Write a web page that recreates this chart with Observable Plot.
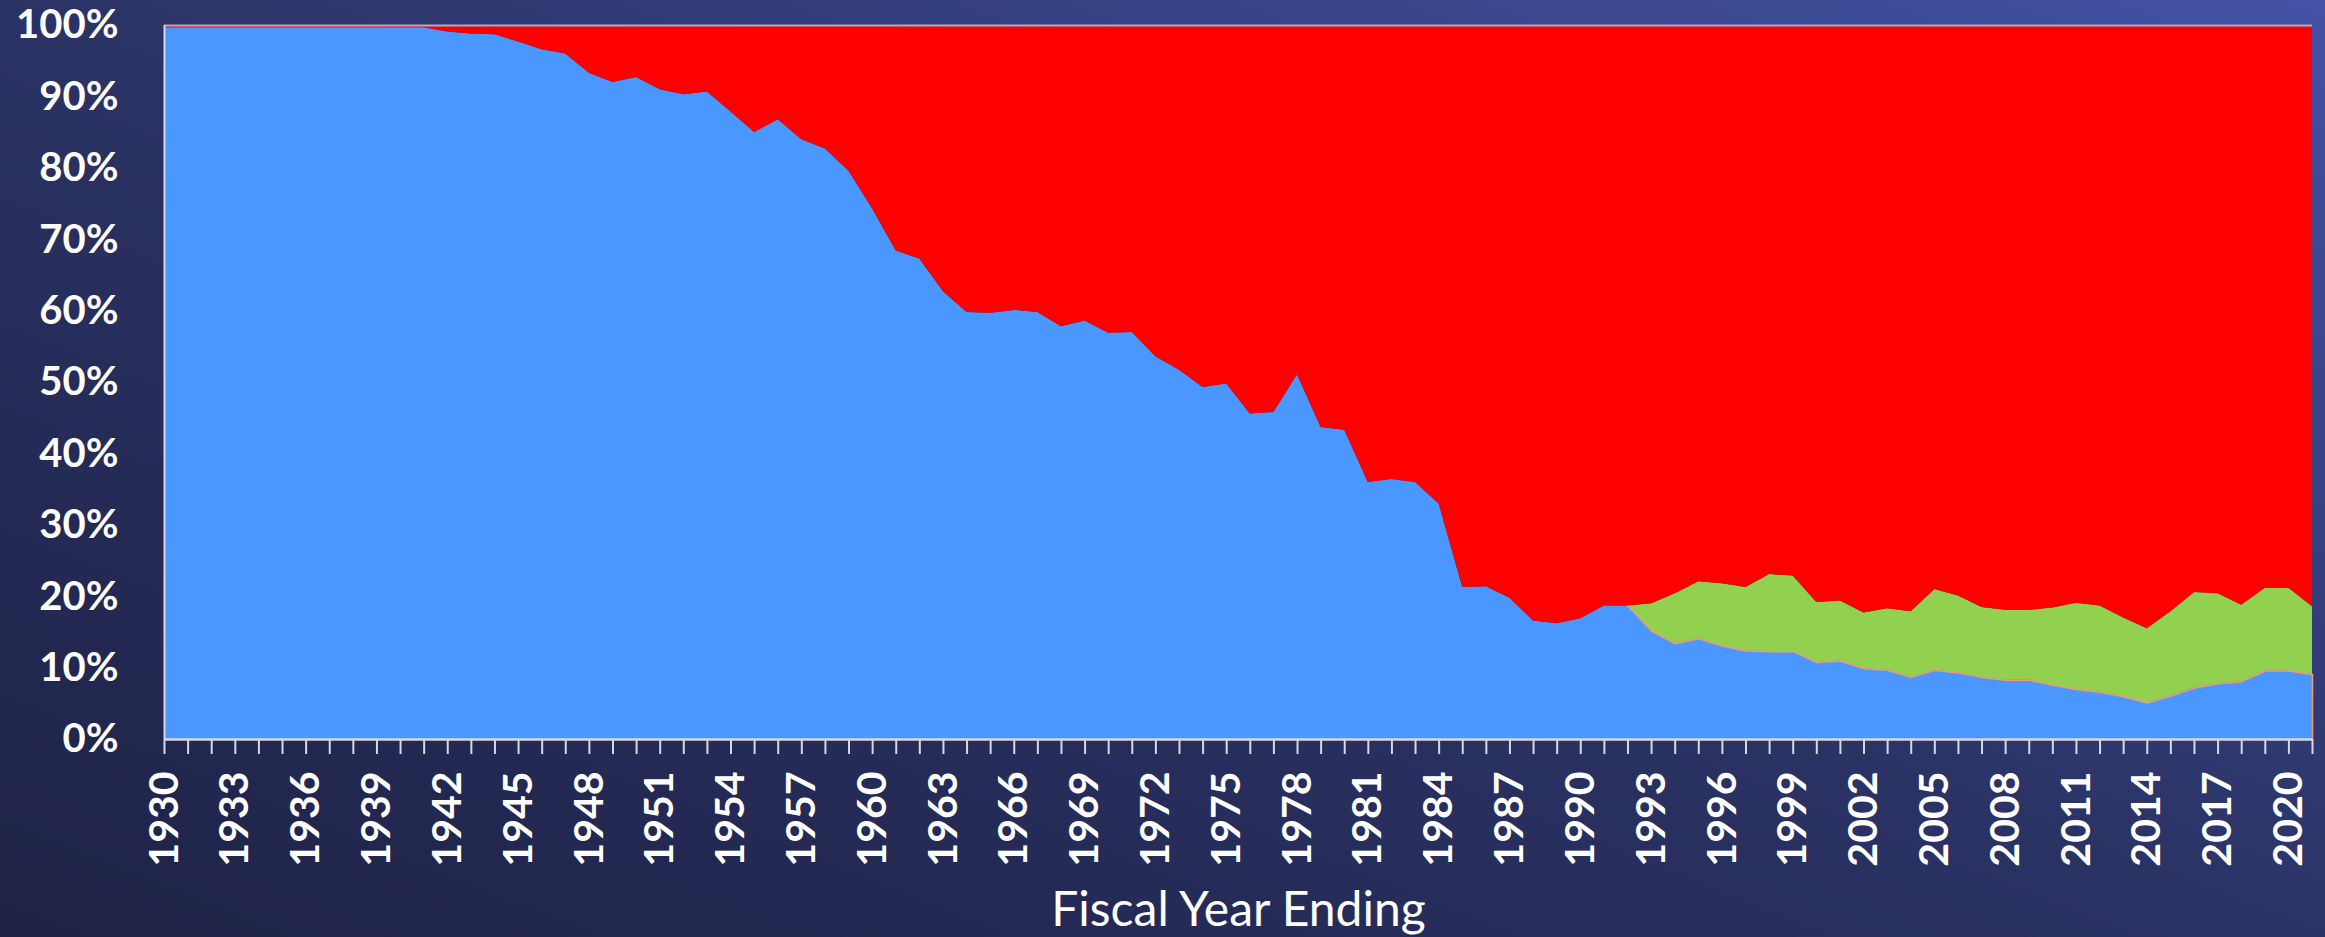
<!DOCTYPE html>
<html>
<head>
<meta charset="utf-8">
<script src="https://cdn.jsdelivr.net/npm/d3@7"></script>
<script src="https://cdn.jsdelivr.net/npm/@observablehq/plot@0.6"></script>
<style>
html, body { margin: 0; padding: 0; width: 2325px; height: 937px; overflow: hidden; }
body { background: linear-gradient(to top right, #1e2246 0%, #2b3365 50%, #4352a4 100%); }
#chart svg { display: block; background: transparent; }
</style>
</head>
<body>
<div id="chart"></div>
<script>
// Fiscal years shown on the x axis
const years = d3.range(1930, 2022);

// Share (%) of the blue series, 1930..2021
const blueShare = [
  99.7, 99.7, 99.7, 99.7, 99.7, 99.7, 99.7, 99.7, 99.7, 99.7,
  99.7, 99.7, 99.1, 98.8, 98.7, 97.7, 96.6, 96.0, 93.3, 92.0,
  92.7, 91.0, 90.3, 90.7, 87.9, 85.0, 86.8, 84.0, 82.7, 79.6,
  74.3, 68.4, 67.3, 62.7, 59.8, 59.7, 60.1, 59.8, 57.8, 58.6,
  56.9, 57.0, 53.6, 51.7, 49.3, 49.8, 45.6, 45.8, 51.1, 43.7,
  43.3, 36.0, 36.4, 36.0, 33.0, 21.3, 21.4, 19.8, 16.6, 16.2,
  16.9, 18.7, 18.7, 15.2, 13.4, 14.1, 13.1, 12.4, 12.3, 12.3,
  10.8, 11.0, 9.9, 9.7, 8.7, 9.7, 9.3, 8.7, 8.3, 8.3,
  7.6, 7.0, 6.6, 6.0, 5.1, 6.1, 7.2, 7.8, 8.1, 9.6,
  9.6, 9.1
];

// Share (%) of the green series, which begins in 1992
const greenStartYear = 1992;
const greenShare = [
  0.0, 3.8, 7.0, 8.0, 8.7, 8.9, 10.8, 10.6, 8.4, 8.4,
  7.8, 8.6, 9.2, 11.3, 10.8, 9.8, 9.8, 9.8, 10.8, 12.1,
  12.1, 11.0, 10.4, 11.8, 13.4, 12.6, 10.7, 11.6, 11.6, 9.5
];

const seriesNames = ["series1", "series2", "series3"];
const seriesColors = ["#4a98ff", "#92d050", "#ff0000"];

// Axis tick labels
const xTickLabels = ["1930","1933","1936","1939","1942","1945","1948","1951","1954","1957",
  "1960","1963","1966","1969","1972","1975","1978","1981","1984","1987","1990","1993",
  "1996","1999","2002","2005","2008","2011","2014","2017","2020"];
const yTickValues = [0, 10, 20, 30, 40, 50, 60, 70, 80, 90, 100];
const yTickLabels = ["0%","10%","20%","30%","40%","50%","60%","70%","80%","90%","100%"];
const xTitle = "Fiscal Year Ending";

// Build long table
const rows = [];
years.forEach((yr, i) => {
  const b = blueShare[i];
  const gi = yr - greenStartYear;
  const g = gi >= 0 ? greenShare[gi] : 0;
  rows.push({year: yr, series: seriesNames[0], value: b});
  rows.push({year: yr, series: seriesNames[1], value: g});
  rows.push({year: yr, series: seriesNames[2], value: 100 - b - g});
});
const blueOutline = years.map((yr, i) => ({year: yr, value: blueShare[i]})).filter(d => d.year >= greenStartYear);
const tickYears = xTickLabels.map(Number);
const xLab = new Map(tickYears.map((y, i) => [y, xTickLabels[i]]));
const yLab = new Map(yTickValues.map((v, i) => [v, yTickLabels[i]]));

const chart = Plot.plot({
  width: 2325,
  height: 937,
  marginLeft: 164,
  marginRight: 13,
  marginTop: 25,
  marginBottom: 198,
  style: {background: "transparent", color: "white", fontFamily: "Lato, 'Open Sans', sans-serif"},
  x: {domain: [1930, 2021]},
  y: {domain: [0, 100]},
  color: {type: "ordinal", domain: seriesNames, range: seriesColors},
  marks: [
    Plot.areaY(rows, {x: "year", y: "value", fill: "series", order: seriesNames, curve: "linear"}),
    Plot.line(blueOutline, {x: "year", y: "value", stroke: "#f29a76", strokeWidth: 1.5}),
    Plot.ruleX([2021], {y1: 0, y2: blueShare[blueShare.length - 1], stroke: "#f29a76", strokeWidth: 1.5}),
    Plot.ruleY([100], {stroke: "#a8adcc", strokeWidth: 2}),
    Plot.ruleX([1930], {stroke: "#d8d8e0", strokeWidth: 2}),
    Plot.ruleY([0], {stroke: "#d8d8e0", strokeWidth: 2.5}),
    Plot.axisX({ticks: years, tickFormat: () => "", tickSize: 15, stroke: "#d8d8e0", strokeWidth: 2, label: null}),
    Plot.axisX({ticks: tickYears, tickFormat: d => xLab.get(d), tickSize: 0, tickPadding: 32, tickRotate: -90,
      fontSize: 41, fontWeight: "bold", label: null}),
    Plot.axisY({ticks: yTickValues, tickFormat: d => yLab.get(d), tickSize: 0, tickPadding: 46,
      fontSize: 40, fontWeight: "bold", label: null}),
    Plot.axisX({ticks: [], label: xTitle, labelAnchor: "center", labelArrow: "none", labelOffset: 186,
      fontSize: 48, fontWeight: "normal"})
  ]
});
document.getElementById("chart").appendChild(chart);
</script>
</body>
</html>
